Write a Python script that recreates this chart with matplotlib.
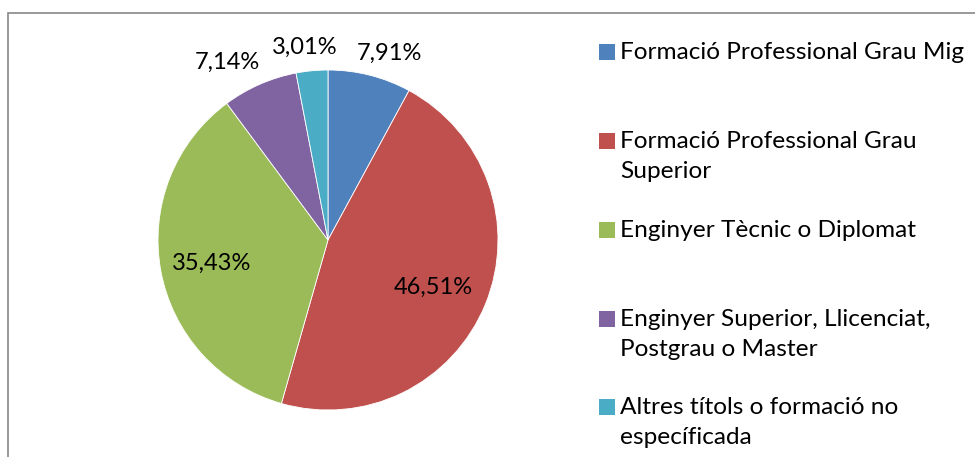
import matplotlib
matplotlib.use("Agg")
import matplotlib.pyplot as plt
from matplotlib.patches import Rectangle
import numpy as np

# data
categories = [
    "Formació Professional Grau Mig",
    "Formació Professional Grau\nSuperior",
    "Enginyer Tècnic o Diplomat",
    "Enginyer Superior, Llicenciat,\nPostgrau o Master",
    "Altres títols o formació no\nespecíficada",
]
shares = [7.91, 46.51, 35.43, 7.14, 3.01]
colors = ["#4F81BD", "#C0504D", "#9BBB59", "#8064A2", "#4BACC6"]

# label placement: fraction of radius and angular nudge (deg)
label_radius = [1.157, 0.68, 0.70, 1.20, 1.14]
label_nudge = [-3.9, -1.9, 1.1, 6.0, 1.4]

W, H = 975, 457
plt.rcParams["font.family"] = ["Lato", "DejaVu Sans"]
fig = plt.figure(figsize=(W / 100, H / 100), dpi=100)

# grey chart border (cut at right/bottom like the screenshot)
fig.patches.append(Rectangle((8 / W, -0.1), 1.2, (H - 13) / H + 0.1,
                             transform=fig.transFigure, fill=False,
                             edgecolor="#878787", linewidth=1.2))

cx, cy, r, half = 328, 240, 170, 210
ax = fig.add_axes([(cx - half) / W, (H - cy - half) / H, 2 * half / W, 2 * half / H])
wedges, _ = ax.pie(shares, colors=colors, startangle=90, counterclock=False,
                   radius=r / half,
                   wedgeprops=dict(edgecolor="white", linewidth=0.6))
ax.set_xlim(-1, 1)
ax.set_ylim(-1, 1)
ax.set_aspect("equal")
ax.axis("off")

for w, v, lr, nd in zip(wedges, shares, label_radius, label_nudge):
    mid = np.deg2rad((w.theta1 + w.theta2) / 2 + nd)
    rr = lr * r / half
    ax.text(rr * np.cos(mid), rr * np.sin(mid), f"{v:.2f}%".replace(".", ","),
            ha="center", va="center", fontsize=17, color="black")

# legend drawn by hand: square aligned with first text line
leg_y = [52, 141, 230, 319, 407]
for lab, c, y in zip(categories, colors, leg_y):
    fig.patches.append(Rectangle((599 / W, (H - y - 8) / H), 16 / W, 16 / H,
                                 transform=fig.transFigure, facecolor=c,
                                 edgecolor="none"))
    fig.text(620 / W, (H - y + 10) / H, lab, ha="left", va="top",
             fontsize=17.6, linespacing=1.55, color="black")

fig.savefig("out.png", dpi=100)
